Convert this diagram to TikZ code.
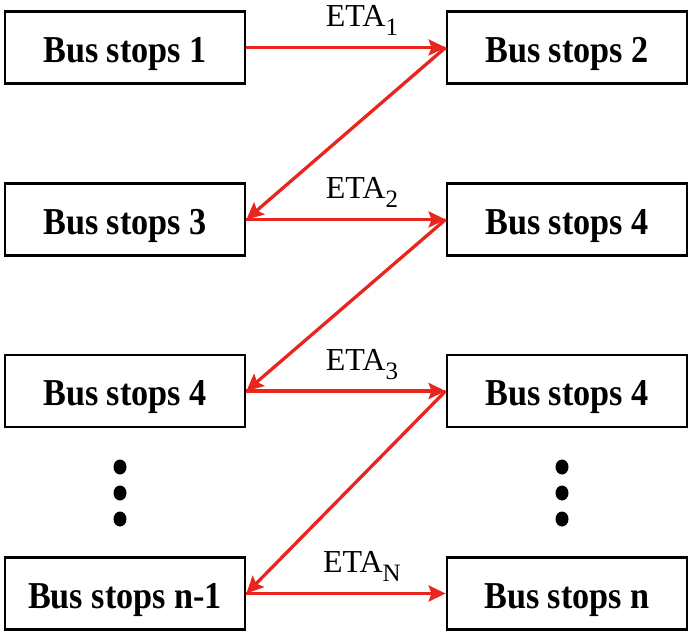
\documentclass[tikz,border=0pt]{standalone}
\usepackage{fontspec}
\setmainfont{Liberation Serif}
\usetikzlibrary{arrows.meta,calc,shapes.geometric}
\definecolor{arrred}{HTML}{E8261F}
\tikzset{
  stopbox/.style={draw=black, line width=2.8pt, minimum width=240pt, minimum height=72pt, inner sep=0pt,
    text height=29.5pt, text depth=0pt, font=\fontsize{38}{44}\selectfont\bfseries},
  link/.style={draw=arrred, line width=3.3pt, -{Stealth[length=17pt,width=16pt,inset=3pt]}},
  etalabel/.style={font=\fontsize{32}{36}\selectfont, inner sep=0pt, anchor=base, yshift=21pt},
  dot/.style={ellipse, fill=black, minimum width=13pt, minimum height=15pt, inner sep=0pt},
}
\newcommand{\bs}[1]{\scalebox{0.9}[1]{#1}}
\newcommand{\etasub}[1]{ETA\raisebox{-9pt}{\fontsize{25}{27}\selectfont #1}}
\begin{document}
\begin{tikzpicture}[x=1pt,y=-1pt]
\useasboundingbox (0,0) rectangle (692,636);
\node[stopbox] (b1) at (125,47.5) {\bs{Bus stops 1}};
\node[stopbox] (b2) at (567,47.5) {\bs{Bus stops 2}};
\node[stopbox] (b3) at (125,219.5) {\bs{Bus stops 3}};
\node[stopbox] (b4) at (567,219.5) {\bs{Bus stops 4}};
\node[stopbox] (b5) at (125,391) {\bs{Bus stops 4}};
\node[stopbox] (b6) at (567,391) {\bs{Bus stops 4}};
\node[stopbox] (b7) at (125,593.5) {\bs{Bus stops n-1}};
\node[stopbox] (b8) at (567,593.5) {\bs{Bus stops n}};
\foreach \i/\y in {d1/467,d2/493,d3/519} {
  \node[dot] (l\i) at (120,\y) {};
  \node[dot] (r\i) at (562,\y) {};
}
\draw[link] (b1.east) -- node[etalabel, pos=0.58] (e1) {\etasub{1}} (b2.west);
\draw[link] (b2.west) -- (b3.east);
\draw[link] (b3.east) -- node[etalabel, pos=0.58] (e2) {\etasub{2}} (b4.west);
\draw[link] (b4.west) -- (b5.east);
\draw[link] (b5.east) -- node[etalabel, pos=0.58] (e3) {\etasub{3}} (b6.west);
\draw[link] (b6.west) -- (b7.east);
\draw[link] (b7.east) -- node[etalabel, pos=0.58] (e4) {\etasub{N}} (b8.west);
\end{tikzpicture}
\end{document}
